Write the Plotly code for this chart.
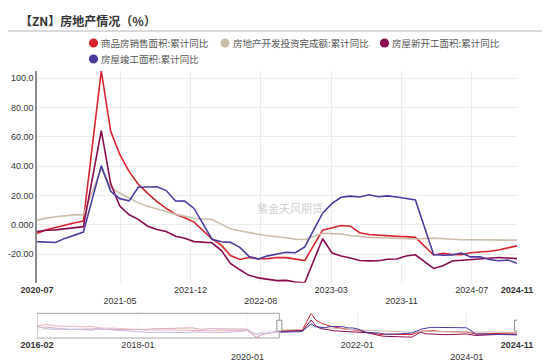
import pandas as pd
import plotly.graph_objects as go

# ---- data (Jan-Feb cumulative figures are reported at Feb; no January points) ----
months = [pd.Timestamp(year=y, month=m, day=1) + pd.offsets.MonthEnd(0)
          for y in range(2016, 2025) for m in range(2, 13)
          if not (y == 2024 and m == 12)]

sales = [  # 商品房销售面积:累计同比
    28.2, 33.1, 37.1, 33.2, 27.9, 26.4, 25.5, 26.9, 26.8, 24.3, 22.5,
    25.1, 19.5, 15.7, 14.3, 16.1, 15.0, 12.7, 10.3, 8.2, 7.9, 7.7,
    4.1, 3.6, 1.3, 2.9, 3.3, 4.2, 4.0, 2.9, 2.2, 1.4, 1.3,
    -3.6, -0.9, -0.3, -1.6, -1.8, -1.3, -0.6, -0.1, 0.1, 0.2, -0.1,
    -39.9, -26.3, -19.3, -12.3, -8.4, -5.8, -3.3, -1.8, 0.0, 1.3, 2.6,
    104.9, 63.8, 48.1, 36.3, 27.7, 21.5, 15.9, 11.3, 7.3, 4.8, 1.9,
    -9.6, -13.8, -20.9, -23.6, -22.2, -23.1, -23.0, -22.2, -22.3, -23.3, -24.3,
    -3.6, -1.8, -0.4, -0.9, -5.3, -6.5, -7.1, -7.5, -7.8, -8.0, -8.5,
    -20.5, -19.4, -20.2, -20.3, -19.0, -18.6, -18.0, -17.1, -15.8, -14.3,
]
invest = [  # 房地产开发投资完成额:累计同比
    3.0, 6.2, 7.2, 7.0, 6.1, 5.3, 5.4, 5.8, 6.6, 6.5, 6.9,
    8.9, 9.1, 9.3, 8.8, 8.5, 7.9, 7.9, 8.1, 7.8, 7.5, 7.0,
    9.9, 10.4, 10.3, 10.2, 9.7, 10.2, 10.1, 9.9, 9.7, 9.7, 9.5,
    11.6, 11.8, 11.9, 11.2, 10.9, 10.6, 10.5, 10.5, 10.3, 10.2, 9.9,
    -16.3, -7.7, -3.3, -0.3, 1.9, 3.4, 4.6, 5.6, 6.3, 6.8, 7.0,
    38.3, 25.6, 21.6, 18.3, 15.0, 12.7, 10.9, 8.8, 7.2, 6.0, 4.4,
    3.7, 0.7, -2.7, -4.0, -5.4, -6.4, -7.4, -8.0, -8.8, -9.8, -10.0,
    -5.7, -5.8, -6.2, -7.2, -7.9, -8.5, -8.8, -9.1, -9.3, -9.4, -9.6,
    -9.0, -9.5, -9.8, -10.1, -10.1, -10.2, -10.2, -10.1, -10.3, -10.4,
]
newstart = [  # 房屋新开工面积:累计同比
    24.6, 19.2, 21.4, 18.3, 14.9, 12.2, 12.1, 6.2, 7.6, 7.3, 8.1,
    10.4, 11.6, 8.5, 6.2, 10.6, 5.5, 6.2, 5.1, 5.6, 6.2, 7.0,
    2.9, 9.7, 10.2, 11.8, 11.8, 14.4, 14.5, 16.4, 16.3, 16.8, 17.2,
    6.0, 11.9, 13.1, 10.5, 10.1, 9.5, 8.9, 8.6, 10.0, 8.6, 8.5,
    -44.9, -27.2, -18.4, -12.8, -7.6, -4.5, -3.6, -3.4, -2.6, -2.0, -1.2,
    64.3, 28.2, 12.8, 6.9, 3.8, -0.9, -3.2, -4.5, -7.7, -9.1, -11.4,
    -12.2, -17.5, -26.3, -30.6, -34.4, -36.1, -37.2, -38.0, -37.8, -38.9, -39.4,
    -9.4, -19.2, -21.2, -22.6, -24.3, -24.5, -24.4, -23.4, -23.2, -21.2, -20.4,
    -29.7, -27.8, -24.6, -24.2, -23.7, -23.2, -22.5, -22.2, -22.6, -23.0,
]
completed = [  # 房屋竣工面积:累计同比
    29.1, 17.5, 12.3, 8.2, 9.8, 10.0, 9.8, 6.5, 7.2, 7.8, 6.1,
    2.0, 11.2, 7.8, 3.1, 4.2, 2.9, 0.6, 0.9, -1.7, -2.0, -4.4,
    -11.9, -11.8, -10.4, -11.2, -10.6, -11.6, -11.6, -12.3, -12.2, -12.3, -7.8,
    -11.9, -10.8, -10.3, -12.4, -12.7, -11.3, -10.0, -8.6, -5.5, -4.5, 2.6,
    -22.9, -15.8, -16.4, -11.3, -10.5, -11.4, -11.6, -12.0, -9.2, -7.3, -4.9,
    40.4, 22.9, 17.9, 16.4, 25.7, 25.7, 26.0, 23.4, 16.3, 16.2, 11.2,
    -9.8, -11.5, -11.9, -15.3, -21.5, -23.3, -21.1, -19.9, -18.7, -19.0, -15.0,
    8.0, 14.7, 18.8, 19.6, 19.0, 20.5, 19.2, 19.8, 19.0, 17.9, 17.0,
    -20.2, -20.7, -20.4, -19.2, -21.8, -21.7, -23.6, -24.4, -23.9, -26.2,
]

series_names = ["商品房销售面积:累计同比", "房地产开发投资完成额:累计同比",
                "房屋新开工面积:累计同比", "房屋竣工面积:累计同比"]
series_values = [sales, invest, newstart, completed]
series_colors = ["#d8232c", "#cbbda9", "#8a0c50", "#4b3ca2"]

y_tick_vals = [-20, 0, 20, 40, 60, 80, 100]
y_tick_text = ["-20.00", "0.000", "20.00", "40.00", "60.00", "80.00", "100.0"]

title_text = "【ZN】房地产情况（%）"
watermark = "紫金天风期货"

# ---- zoom window (data zoom) ----
main_start = pd.Timestamp("2020-07-31")
main_end = months[-1]
first_label = pd.Timestamp("2021-05-01")
label_step = pd.Timedelta(days=232)
inner = [first_label + k * label_step for k in range(6)]
main_tickvals = [main_start] + inner + [main_end]
main_ticktext = []
for i, t in enumerate(main_tickvals):
    s = t.strftime("%Y-%m")
    if i == 0 or i == len(main_tickvals) - 1:
        s = "<b>" + s + "</b>"
    elif i % 2 == 1:
        s = "<br>" + s
    main_ticktext.append(s)

slider_tickvals = [months[0], pd.Timestamp("2018-01-01"), pd.Timestamp("2020-01-01"),
                   pd.Timestamp("2022-01-01"), pd.Timestamp("2024-01-01"), months[-1]]
slider_ticktext = []
for i, t in enumerate(slider_tickvals):
    s = t.strftime("%Y-%m")
    if i == 0 or i == len(slider_tickvals) - 1:
        s = "<b>" + s + "</b>"
    elif i % 2 == 0:
        s = "<br>" + s
    slider_ticktext.append(s)

visible = [v for vals in series_values for d, v in zip(months, vals) if d >= main_start]
y_min, y_max = min(visible), max(visible)
all_vals = [v for vals in series_values for v in vals]

# page body has an 8px margin; the figure is sized to fill the rest of the window
OFF = 8
W, H = 550 - OFF, 362 - OFF
def px_x(p): return (p - OFF) / W
def px_y(p): return 1 - (p - OFF) / H

fig = go.Figure()
for name, vals, col in zip(series_names, series_values, series_colors):
    fig.add_trace(go.Scatter(x=months, y=vals, mode="lines", name=name,
                             line=dict(color=col, width=1.6), showlegend=False,
                             xaxis="x", yaxis="y"))
    fig.add_trace(go.Scatter(x=months, y=vals, mode="lines", name=name,
                             line=dict(color=col, width=1), showlegend=False,
                             xaxis="x2", yaxis="y2", hoverinfo="skip"))

font_cjk = "Noto Sans CJK SC"
font_num = "Liberation Sans, Arial"
tick_font = dict(family=font_num, size=9, color="#333333")

fig.update_layout(
    width=W, height=H, autosize=False,
    margin=dict(l=0, r=0, t=0, b=0, pad=0),
    paper_bgcolor="white", plot_bgcolor="white",
    showlegend=False,
    xaxis=dict(domain=[px_x(37), px_x(517)], range=[main_start, main_end],
               type="date", tickmode="array", tickvals=main_tickvals, ticktext=main_ticktext,
               showgrid=True, gridcolor="#ebebeb", gridwidth=1, showline=False,
               zeroline=False, ticks="", tickfont=tick_font, automargin=False,
               anchor="y", fixedrange=True),
    yaxis=dict(domain=[px_y(282.7), px_y(71)], range=[y_min, y_max],
               tickmode="array", tickvals=y_tick_vals, ticktext=y_tick_text,
               showgrid=True, gridcolor="#ebebeb", gridwidth=1, zeroline=False,
               showline=True, linecolor="#8c8c8c", linewidth=1.5, ticks="",
               tickfont=tick_font, automargin=False,
               anchor="x", fixedrange=True),
    xaxis2=dict(domain=[px_x(37), px_x(517)], range=[months[0], months[-1]],
                type="date", tickmode="array", tickvals=slider_tickvals, ticktext=slider_ticktext,
                showgrid=True, gridcolor="#ebebeb", showline=False, zeroline=False, ticks="",
                tickfont=tick_font, automargin=False,
                anchor="y2", fixedrange=True),
    yaxis2=dict(domain=[px_y(338), px_y(313.3)], range=[min(all_vals), max(all_vals)],
                showgrid=False, showticklabels=False, zeroline=False, showline=False,
                automargin=False, anchor="x2", fixedrange=True),
)

# title + separator
fig.add_annotation(text="<b>" + title_text + "</b>", xref="paper", yref="paper",
                   x=px_x(18), y=px_y(20), xanchor="left", yanchor="middle", showarrow=False,
                   font=dict(family=font_cjk, size=12, color="#333333"))
fig.add_shape(type="line", xref="paper", yref="paper", x0=px_x(8), x1=1,
              y0=px_y(31), y1=px_y(31), line=dict(color="#d9d9d9", width=2))

# legend (circle swatch + label)
legend_pos = [(93.5, 43), (225, 43), (384.5, 43), (93.5, 59)]
for (cx, cy), name, col in zip(legend_pos, series_names, series_colors):
    r = 4.6
    fig.add_shape(type="circle", xref="paper", yref="paper",
                  x0=px_x(cx - r), x1=px_x(cx + r), y0=px_y(cy + r), y1=px_y(cy - r),
                  fillcolor=col, line=dict(width=0))
    fig.add_annotation(text=name, xref="paper", yref="paper", x=px_x(cx + 5.5), y=px_y(cy),
                       xanchor="left", yanchor="middle", showarrow=False,
                       font=dict(family=font_cjk, size=9.5, color="#555555"))

# watermark
fig.add_annotation(text=watermark, xref="paper", yref="paper", x=px_x(290), y=px_y(208),
                   showarrow=False, font=dict(family=font_cjk, size=11, color="#cfcfcf"))

# slider: shaded box over the part outside the zoom window + handles
fig.add_shape(type="rect", xref="x2", yref="y2 domain", x0=months[0], x1=main_start,
              y0=0, y1=1, fillcolor="rgba(255,255,255,0.65)",
              line=dict(color="#a6a6a6", width=1), layer="above")
for hx in (main_start, main_end):
    fig.add_shape(type="rect", xref="x2", yref="y2 domain", xsizemode="pixel", xanchor=hx,
                  x0=-2.5, x1=2.5, y0=0.28, y1=0.72, fillcolor="white",
                  line=dict(color="#8c8c8c", width=1), layer="above")

fig.write_html("out.html")
